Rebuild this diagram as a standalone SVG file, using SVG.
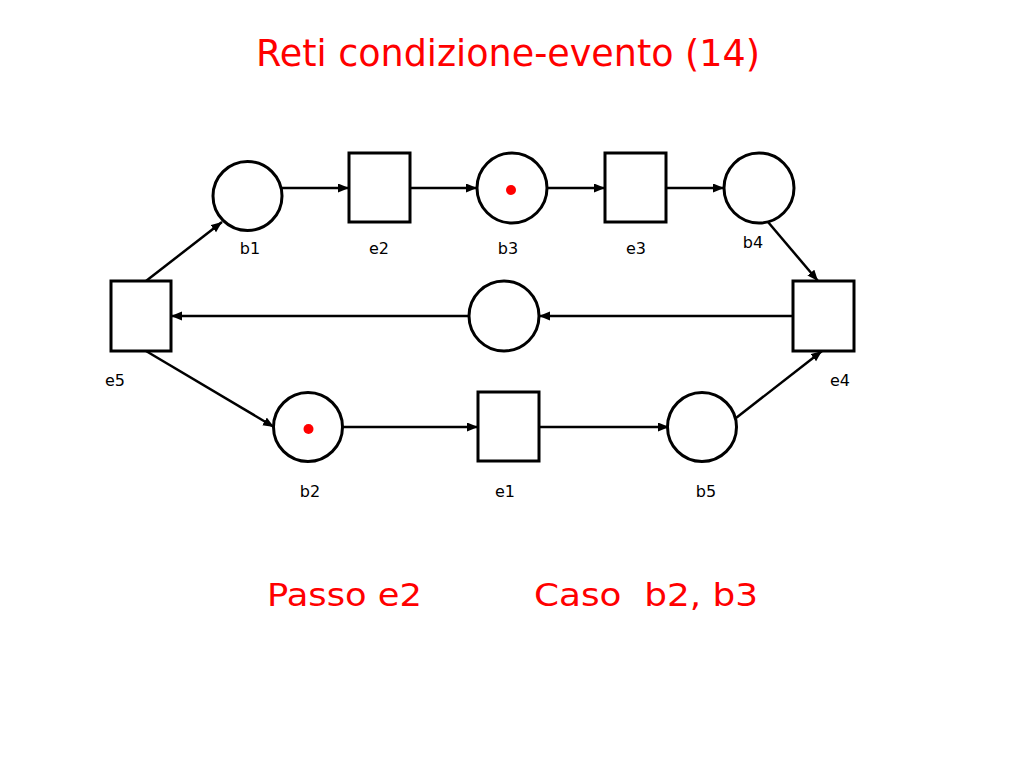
<svg xmlns="http://www.w3.org/2000/svg" width="1024" height="768" viewBox="0 0 1024 768">
<defs>
<marker id="ah" markerUnits="userSpaceOnUse" markerWidth="12" markerHeight="10" refX="11" refY="4.5" orient="auto">
<path d="M0,0 L11,4.5 L0,9 z" fill="#000"/>
</marker>
<style>
.place{fill:#fff;stroke:#000;stroke-width:3}
.trans{fill:#fff;stroke:#000;stroke-width:3}
.tok{fill:#f00}
.lbl{font-family:"DejaVu Sans","Liberation Sans",sans-serif;font-size:16px;fill:#000;text-anchor:middle}
.red{font-family:"DejaVu Sans","Liberation Sans",sans-serif;fill:#f00}
.edge{stroke:#000;stroke-width:2.5;fill:none;marker-end:url(#ah)}
</style>
</defs>
<rect width="1024" height="768" fill="#fff"/>
<text class="red" x="256" y="66" font-size="38" textLength="504" lengthAdjust="spacingAndGlyphs">Reti condizione-evento (14)</text>
<g id="connectors">
<line class="edge" x1="282" y1="188" x2="349" y2="188"/>
<line class="edge" x1="411" y1="188" x2="477" y2="188"/>
<line class="edge" x1="547" y1="188" x2="605" y2="188"/>
<line class="edge" x1="667" y1="188" x2="724" y2="188"/>
<line class="edge" x1="768" y1="222" x2="818" y2="281"/>
<line class="edge" x1="793" y1="316" x2="539" y2="316"/>
<line class="edge" x1="469" y1="316" x2="171" y2="316"/>
<line class="edge" x1="146" y1="281" x2="222" y2="222"/>
<line class="edge" x1="146" y1="351" x2="274" y2="427"/>
<line class="edge" x1="342" y1="427" x2="478" y2="427"/>
<line class="edge" x1="540" y1="427" x2="669" y2="427"/>
<line class="edge" x1="736" y1="418" x2="822" y2="351"/>
</g>
<g id="b1"><circle class="place" cx="247.5" cy="196" r="34.5"/><text class="lbl" x="250" y="254">b1</text></g>
<g id="e2"><rect class="trans" x="349" y="153" width="61" height="69"/><text class="lbl" x="379" y="254">e2</text></g>
<g id="b3"><circle class="place" cx="512" cy="188" r="35"/><circle class="tok" cx="511" cy="190" r="5"/><text class="lbl" x="508" y="254">b3</text></g>
<g id="e3"><rect class="trans" x="605" y="153" width="61" height="69"/><text class="lbl" x="636" y="254">e3</text></g>
<g id="b4"><circle class="place" cx="759" cy="188" r="35"/><text class="lbl" x="753" y="248">b4</text></g>
<g id="e4"><rect class="trans" x="793" y="281" width="61" height="70"/><text class="lbl" x="840" y="386">e4</text></g>
<g id="mid"><circle class="place" cx="504" cy="316" r="35"/></g>
<g id="e5"><rect class="trans" x="111" y="281" width="60" height="70"/><text class="lbl" x="115" y="386">e5</text></g>
<g id="b2"><circle class="place" cx="308" cy="427" r="34.5"/><circle class="tok" cx="308.5" cy="429" r="5"/><text class="lbl" x="310" y="497">b2</text></g>
<g id="e1"><rect class="trans" x="478" y="392" width="61" height="69"/><text class="lbl" x="505" y="497">e1</text></g>
<g id="b5"><circle class="place" cx="702" cy="427" r="34.5"/><text class="lbl" x="706" y="497">b5</text></g>
<text class="red" x="267" y="606" font-size="32" textLength="155" lengthAdjust="spacingAndGlyphs">Passo e2</text>
<text class="red" x="534" y="606" font-size="32" textLength="224" lengthAdjust="spacingAndGlyphs" xml:space="preserve">Caso  b2, b3</text>
</svg>
